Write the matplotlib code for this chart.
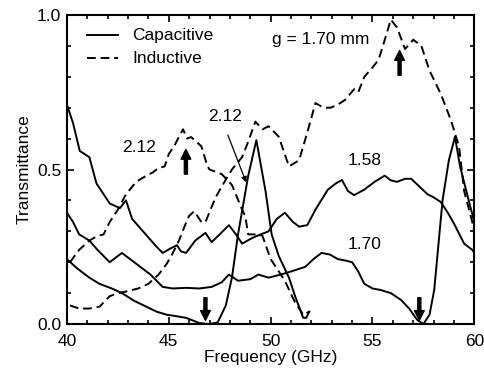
import matplotlib
matplotlib.use("Agg")
import matplotlib.pyplot as plt
from matplotlib.ticker import MultipleLocator, FormatStrFormatter

plt.rcParams['font.family'] = ['Liberation Sans', 'DejaVu Sans']

# Capacitive g = 1.58 mm
f_c158 = [40.0, 40.3, 40.63, 41.1, 41.45, 41.8, 42.1, 42.6, 42.9, 43.2, 43.6, 44.0, 44.4, 44.7,
          45.1, 45.4, 45.6, 45.85, 46.3, 46.8, 47.1, 47.5, 47.95, 48.3, 48.6, 49.0, 49.25, 49.9,
          50.3, 50.7, 51.1, 51.4, 51.8, 52.2, 52.8, 53.2, 53.5, 53.8, 54.1, 54.6, 55.1, 55.6,
          55.9, 56.2, 56.6, 56.9, 57.3, 57.7, 58.0, 58.35, 58.7, 59.0, 59.5, 59.9, 60.0]
t_c158 = [0.71, 0.65, 0.56, 0.54, 0.455, 0.42, 0.39, 0.375, 0.40, 0.34, 0.31, 0.28, 0.25, 0.23,
          0.245, 0.255, 0.235, 0.23, 0.27, 0.295, 0.265, 0.29, 0.32, 0.29, 0.26, 0.275, 0.283, 0.30,
          0.34, 0.36, 0.33, 0.315, 0.32, 0.37, 0.434, 0.455, 0.466, 0.43, 0.417, 0.435, 0.46, 0.48,
          0.465, 0.46, 0.47, 0.47, 0.445, 0.42, 0.41, 0.395, 0.36, 0.325, 0.26, 0.24, 0.23]

# Capacitive g = 1.70 mm
f_c170 = [40.0, 40.3, 40.6, 41.1, 41.5, 42.1, 42.4, 42.7, 43.1, 43.6, 44.1, 44.7, 45.2, 45.85,
          46.5, 47.1, 47.6, 47.95, 48.4, 49.0, 49.4, 49.9, 50.5, 51.0, 51.7, 52.1, 52.5, 52.9,
          53.3, 53.7, 54.0, 54.3, 54.6, 55.0, 55.4, 55.9, 56.4, 56.8, 57.2, 57.5, 57.8, 58.03,
          58.44, 58.75, 59.05, 59.3, 59.8, 60.0]
t_c170 = [0.36, 0.33, 0.29, 0.27, 0.24, 0.20, 0.215, 0.23, 0.21, 0.185, 0.16, 0.12, 0.115, 0.117,
          0.115, 0.12, 0.135, 0.16, 0.14, 0.145, 0.16, 0.15, 0.16, 0.17, 0.185, 0.21, 0.23, 0.225,
          0.21, 0.205, 0.20, 0.17, 0.13, 0.115, 0.11, 0.10, 0.078, 0.05, 0.013, 0.0, 0.03, 0.11,
          0.40, 0.53, 0.606, 0.51, 0.38, 0.33]

# Capacitive g = 2.12 mm
f_c212 = [40.0, 40.5, 41.1, 41.6, 42.2, 42.7, 43.3, 43.9, 44.4, 44.9, 45.4, 45.85, 46.5, 47.0,
          47.4, 47.8, 48.1, 48.4, 48.9, 49.3, 49.75, 50.05, 50.4, 50.9, 51.2, 51.6, 51.75, 51.9]
t_c212 = [0.21, 0.18, 0.15, 0.13, 0.115, 0.10, 0.075, 0.056, 0.04, 0.03, 0.025, 0.02, 0.003, 0.0,
          0.005, 0.06, 0.15, 0.29, 0.48, 0.595, 0.43, 0.29, 0.22, 0.15, 0.09, 0.02, 0.02, 0.04]

# Inductive g = 2.12 mm
f_i212 = [40.15, 40.6, 41.1, 41.5, 41.8, 42.1, 42.5, 42.9, 43.4, 43.9, 44.2, 44.5, 44.8, 45.0,
          45.3, 45.5, 45.7, 45.9, 46.1, 46.6, 46.9, 47.0, 47.6, 48.1, 48.6, 48.75, 48.9, 49.4,
          49.6, 50.0, 50.4, 50.7, 51.05, 51.2, 51.6, 51.9]
t_i212 = [0.20, 0.24, 0.27, 0.285, 0.29, 0.33, 0.37, 0.42, 0.46, 0.48, 0.49, 0.505, 0.51, 0.55,
          0.58, 0.606, 0.63, 0.60, 0.605, 0.575, 0.51, 0.50, 0.485, 0.45, 0.37, 0.35, 0.29, 0.29,
          0.285, 0.21, 0.17, 0.14, 0.09, 0.07, 0.03, 0.04]

# Inductive g = 1.70 mm
f_i170 = [40.15, 40.6, 41.1, 41.6, 42.1, 42.5, 42.9, 43.5, 44.0, 44.5, 44.9, 45.2, 45.5, 45.8,
          46.0, 46.25, 46.6, 46.8, 47.3, 47.6, 48.1, 48.6, 48.9, 49.25, 49.6, 49.9, 50.4, 50.9,
          51.4, 51.8, 52.2, 52.6, 52.95, 53.3, 53.65, 54.1, 54.3, 54.6, 55.0, 55.3, 55.65, 55.9,
          56.2, 56.6, 57.0, 57.4, 57.8, 58.35, 58.85, 59.25, 59.5, 59.9, 60.0]
t_i170 = [0.06, 0.05, 0.05, 0.056, 0.09, 0.10, 0.105, 0.115, 0.13, 0.16, 0.195, 0.23, 0.27, 0.32,
          0.35, 0.365, 0.33, 0.33, 0.41, 0.445, 0.50, 0.54, 0.59, 0.655, 0.63, 0.64, 0.606, 0.51,
          0.53, 0.62, 0.715, 0.70, 0.70, 0.71, 0.725, 0.76, 0.75, 0.80, 0.83, 0.855, 0.93, 0.985,
          0.96, 0.89, 0.92, 0.90, 0.82, 0.745, 0.66, 0.574, 0.43, 0.33, 0.30]

fs = 12.5
fig = plt.figure(figsize=(4.85, 3.75), dpi=100)
ax = fig.add_axes([0.138, 0.136, 0.840, 0.824])

lw = 1.4
dash = (0, (4.5, 2.5))
ax.plot(f_c158, t_c158, color='black', lw=lw)
ax.plot(f_c170, t_c170, color='black', lw=lw)
ax.plot(f_c212, t_c212, color='black', lw=lw)
ax.plot(f_i212, t_i212, color='black', lw=lw, linestyle=dash)
ax.plot(f_i170, t_i170, color='black', lw=lw, linestyle=dash)

ax.set_xlim(40, 60)
ax.set_ylim(0, 1.0)
ax.xaxis.set_major_locator(MultipleLocator(5))
ax.xaxis.set_minor_locator(MultipleLocator(1))
ax.yaxis.set_major_locator(MultipleLocator(0.5))
ax.yaxis.set_minor_locator(MultipleLocator(0.1))
ax.yaxis.set_major_formatter(FormatStrFormatter('%.1f'))
ax.tick_params(which='both', direction='in', top=True, right=True, width=1.2)
ax.tick_params(which='major', length=5, labelsize=fs, pad=4)
ax.tick_params(axis='x', which='major', pad=7)
ax.tick_params(which='minor', length=3)
for s in ax.spines.values():
    s.set_linewidth(1.5)

ax.set_xlabel('Frequency (GHz)', fontsize=fs, labelpad=1)
ax.set_ylabel('Transmittance', fontsize=fs, labelpad=4)

# legend drawn manually
ax.plot([41.0, 42.5], [0.935, 0.935], color='black', lw=lw)
ax.plot([41.0, 42.5], [0.86, 0.86], color='black', lw=lw, linestyle=dash)
ax.text(43.2, 0.935, 'Capacitive', fontsize=fs, va='center', ha='left')
ax.text(43.2, 0.86, 'Inductive', fontsize=fs, va='center', ha='left')
ax.text(50.05, 0.92, 'g = 1.70 mm', fontsize=fs, va='center', ha='left')

ax.text(43.56, 0.57, '2.12', fontsize=fs, ha='center', va='center')
ax.text(47.76, 0.67, '2.12', fontsize=fs, ha='center', va='center')
ax.text(54.6, 0.53, '1.58', fontsize=fs, ha='center', va='center')
ax.text(54.6, 0.256, '1.70', fontsize=fs, ha='center', va='center')

ax.annotate('', xy=(48.85, 0.45), xytext=(47.85, 0.62),
            arrowprops=dict(arrowstyle='-|>', color='black', lw=0.9, mutation_scale=8))

ap = dict(facecolor='black', edgecolor='black', width=2.2, headwidth=7, headlength=7)
ax.annotate('', xy=(45.84, 0.565), xytext=(45.84, 0.485), arrowprops=ap)
ax.annotate('', xy=(56.33, 0.885), xytext=(56.33, 0.805), arrowprops=ap)
ax.annotate('', xy=(46.8, 0.012), xytext=(46.8, 0.085), arrowprops=ap)
ax.annotate('', xy=(57.3, 0.012), xytext=(57.3, 0.085), arrowprops=ap)

fig.savefig('out.png', dpi=100)
